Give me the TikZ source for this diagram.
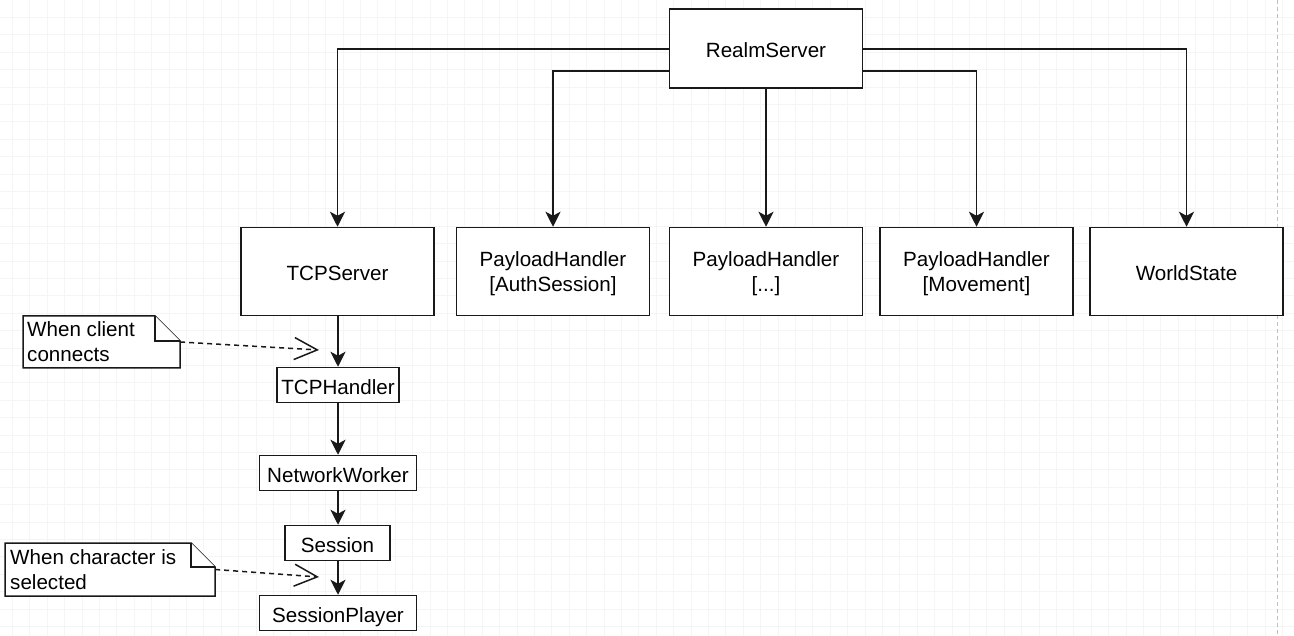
\documentclass[tikz,border=0pt]{standalone}
\usepackage{fontspec}
\setmainfont{Liberation Sans}
\usetikzlibrary{arrows.meta}
\begin{document}
\begin{tikzpicture}[x=1pt,y=-1pt,
  box/.style={draw=black!90, line width=1.5pt, fill=white, inner sep=0pt, align=center,
    font=\fontsize{20.6}{25}\selectfont, text depth=0pt,
    execute at begin node={\rule{0pt}{19pt}}},
  notetext/.style={inner sep=0pt, align=left, font=\fontsize{20.6}{25}\selectfont},
  notebox/.style={draw=black!90, line width=1.5pt, fill=white, line join=miter},
  conn/.style={line width=1.5pt, draw=black!90, -{Stealth[length=15pt,width=15pt,inset=4pt]}},
  noteconn/.style={line width=1.5pt, draw=black!90, dash pattern=on 5pt off 4pt,
    -{Straight Barb[length=23pt,width=22pt,line width=1.5pt]}},
  gridline/.style={draw=black!4, line width=0.7pt}]
\useasboundingbox (0,0) rectangle (1294,636);
\fill[white] (0,0) rectangle (1294,636);
% background grid
\foreach \k in {0,...,73} {\draw[gridline] ({12.3+\k*17.4},0) -- ++(0,636);}
\foreach \k in {1,...,36} {\draw[gridline] (0,{\k*17.4}) -- ++(1294,0);}
\draw[black!25, line width=0.8pt, dash pattern=on 4pt off 3pt] (1277,0) -- (1277,636);

% nodes
\node[box, minimum width=193pt, minimum height=79pt] (realm) at (766,48.5) {RealmServer};
\node[box, minimum width=193pt, minimum height=88pt] (tcps) at (337.5,271.5) {TCPServer};
\node[box, minimum width=193pt, minimum height=88pt] (ph1) at (553,271.5) {PayloadHandler\\{}[AuthSession]};
\node[box, minimum width=193pt, minimum height=88pt] (ph2) at (766,271.5) {PayloadHandler\\{}[...]};
\node[box, minimum width=193pt, minimum height=88pt] (ph3) at (976.5,271.5) {PayloadHandler\\{}[Movement]};
\node[box, minimum width=193pt, minimum height=88pt] (world) at (1186.5,271.5) {WorldState};
\node[box, minimum width=122pt, minimum height=35pt] (tcph) at (338,385) {TCPHandler};
\node[box, minimum width=157pt, minimum height=35pt] (nw) at (338,473) {NetworkWorker};
\node[box, minimum width=105pt, minimum height=35pt] (sess) at (337.5,543) {Session};
\node[box, minimum width=157pt, minimum height=35pt] (sp) at (338,613) {SessionPlayer};

% notes
\draw[notebox] (23,316) -- (155,316) -- (180,341) -- (180,368) -- (23,368) -- cycle;
\draw[notebox] (155,316) -- (155,341) -- (180,341);
\node[notetext, minimum width=157pt, minimum height=52pt] (note1) at (101.5,342) {};
\node[notetext, anchor=north west] at (27,321.5) {When client\\connects};
\draw[notebox] (5,543) -- (191,543) -- (215,567) -- (215,596) -- (5,596) -- cycle;
\draw[notebox] (191,543) -- (191,567) -- (215,567);
\node[notetext, minimum width=210pt, minimum height=53pt] (note2) at (110,569.5) {};
\node[notetext, anchor=north west] at (10,549.5) {When character is\\selected};

\coordinate (t1) at (319,350);
\coordinate (t2) at (319,577);

% connectors
\draw[conn] (realm.west |- 0,49) -| (tcps.north);
\draw[conn] (realm.west |- 0,71) -| (ph1.north);
\draw[conn] (realm.south) -- (ph2.north);
\draw[conn] (realm.east |- 0,71) -| (ph3.north);
\draw[conn] (realm.east |- 0,49) -| (world.north);
\draw[conn] (tcps.south -| 338,0) -- (tcph.north -| 338,0);
\draw[conn] (tcph.south -| 338,0) -- (nw.north -| 338,0);
\draw[conn] (nw.south -| 338,0) -- (sess.north -| 338,0);
\draw[conn] (sess.south -| 338,0) -- (sp.north -| 338,0);
\draw[noteconn] (note1.east) -- (t1);
\draw[noteconn] (note2.east) -- (t2);
\end{tikzpicture}
\end{document}
